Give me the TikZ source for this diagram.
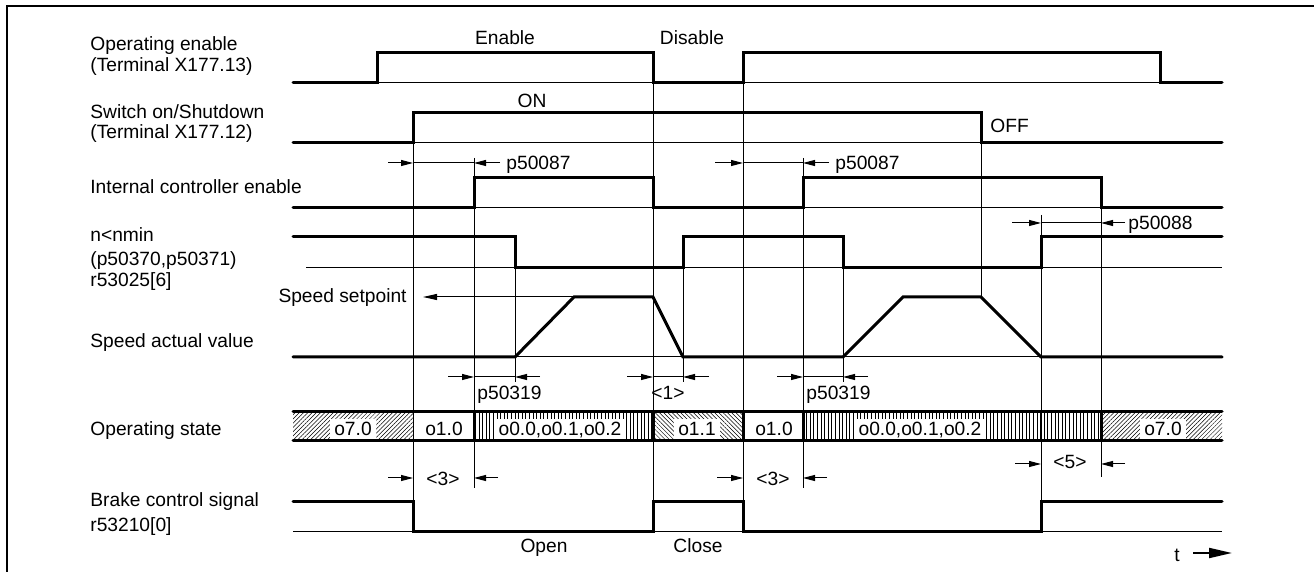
\documentclass[tikz,border=0pt]{standalone}
\usepackage{fontspec}
\setmainfont{Liberation Sans}
\usetikzlibrary{arrows.meta,patterns.meta}
\begin{document}
\begin{tikzpicture}[x=0.5pt,y=-0.5pt,
  sig/.style={line width=1.5pt,line join=miter,line cap=round},
  thinl/.style={line width=0.5pt},
  guide/.style={line width=0.5pt},
  sep/.style={line width=1.5pt},
  dimarr/.style={line width=0.5pt,-{Triangle[length=6pt,width=3pt]}},
  lbl/.style={font=\fontsize{9.6}{11}\selectfont,inner sep=0pt,text height=6.9pt,text depth=0pt},
  barlbl/.style={lbl,fill=white,inner xsep=2pt,inner ysep=1.5pt},
  hatchNE/.style={pattern={Lines[angle=45,distance=1.5pt,line width=0.25pt]}},
  hatchNW/.style={pattern={Lines[angle=-45,distance=1.5pt,line width=0.25pt]}},
  hatchV/.style={pattern={Lines[angle=90,distance=1.8pt,line width=0.25pt]}}]
\useasboundingbox (0,0) rectangle (1314,572);
% frame
\draw[line width=1.2pt] (7,572) -- (7,6) -- (1314,6);

% left labels
\node[lbl,anchor=west] (l1a) at (90,44) {Operating enable};
\node[lbl,anchor=west] (l1b) at (90,65) {(Terminal X177.13)};
\node[lbl,anchor=west] (l2a) at (90,112) {Switch on/Shutdown};
\node[lbl,anchor=west] (l2b) at (90,132) {(Terminal X177.12)};
\node[lbl,anchor=west] (l3) at (90,187) {Internal controller enable};
\node[lbl,anchor=west] (l4a) at (90,235) {n<nmin};
\node[lbl,anchor=west] (l4b) at (90,259) {(p50370,p50371)};
\node[lbl,anchor=west] (l4c) at (90,280) {r53025[6]};
\node[lbl,anchor=east] (sp) at (407,296) {Speed setpoint};
\node[lbl,anchor=west] (l5) at (90,341) {Speed actual value};
\node[lbl,anchor=west] (l6) at (90,429) {Operating state};
\node[lbl,anchor=west] (l7a) at (90,500) {Brake control signal};
\node[lbl,anchor=west] (l7b) at (90,525) {r53210[0]};

% guide lines
\draw[guide] (413,143) -- (413,502);
\draw[guide] (474,158) -- (474,488);
\draw[guide] (515,237) -- (515,382);
\draw[guide] (653,83) -- (653,502);
\draw[guide] (683,237) -- (683,382);
\draw[guide] (743,83) -- (743,502);
\draw[guide] (803,158) -- (803,488);
\draw[guide] (843,237) -- (843,382);
\draw[guide] (981,143) -- (981,297);
\draw[guide] (1041,215) -- (1041,502);
\draw[guide] (1101,208) -- (1101,477);

% signal 1: operating enable
\draw[thinl] (293,83) -- (1222,83);
\draw[sig] (293,83) -- (377,83) -- (377,53) -- (653,53) -- (653,83) -- (743,83) -- (743,53) -- (1160,53) -- (1160,83) -- (1222,83);
\node[lbl] (en) at (505,38) {Enable};
\node[lbl] (dis) at (692,38) {Disable};

% signal 2: switch on
\draw[thinl] (293,143) -- (1222,143);
\draw[sig] (293,143) -- (413,143) -- (413,113) -- (981,113) -- (981,143) -- (1222,143);
\node[lbl] (on) at (532,101) {ON};
\node[lbl,anchor=west] (off) at (990,126) {OFF};

% p50087
\draw[dimarr] (388,163) -- (413,163);
\draw[thinl] (413,163) -- (474,163);
\draw[dimarr] (500,163) -- (474,163);
\node[lbl,anchor=west] (p87a) at (506,163) {p50087};
\draw[dimarr] (715,163) -- (743,163);
\draw[thinl] (743,163) -- (803,163);
\draw[dimarr] (829,163) -- (803,163);
\node[lbl,anchor=west] (p87b) at (835,163) {p50087};

% signal 3: internal controller enable
\draw[thinl] (293,208) -- (1222,208);
\draw[sig] (293,208) -- (474,208) -- (474,178) -- (653,178) -- (653,208) -- (803,208) -- (803,178) -- (1101,178) -- (1101,208) -- (1222,208);

% p50088
\draw[dimarr] (1012,223) -- (1041,223);
\draw[thinl] (1041,223) -- (1101,223);
\draw[dimarr] (1125,223) -- (1101,223);
\node[lbl,anchor=west] (p88) at (1128,223) {p50088};

% signal 4: n<nmin
\draw[thinl] (306,268) -- (1222,268);
\draw[sig] (293,237) -- (515,237) -- (515,268) -- (683,268) -- (683,237) -- (843,237) -- (843,268) -- (1041,268) -- (1041,237) -- (1222,237);

% signal 5: speed
\draw[thinl] (293,357) -- (1222,357);
\draw[thinl,-{Triangle[length=7pt,width=3pt]}] (574,297) -- (423,297);
\draw[sig] (293,357) -- (515,357) -- (574,297) -- (653,297) -- (683,357) -- (843,357) -- (903,297) -- (981,297) -- (1041,357) -- (1222,357);

% p50319 and <1>
\draw[dimarr] (448,377) -- (474,377);
\draw[thinl] (474,377) -- (515,377);
\draw[dimarr] (540,377) -- (515,377);
\node[lbl,anchor=west] (p319a) at (477,393) {p50319};
\draw[dimarr] (627,377) -- (653,377);
\draw[thinl] (653,377) -- (683,377);
\draw[dimarr] (709,377) -- (683,377);
\node[lbl] (d1) at (668,393) {<1>};
\draw[dimarr] (777,377) -- (803,377);
\draw[thinl] (803,377) -- (843,377);
\draw[dimarr] (868,377) -- (843,377);
\node[lbl,anchor=west] (p319b) at (806,393) {p50319};

% operating state bar
\fill[hatchNE] (293,413) rectangle (413,440);
\fill[hatchV] (474,413) rectangle (653,440);
\fill[hatchNW] (653,413) rectangle (743,440);
\fill[hatchV] (803,413) rectangle (1101,440);
\fill[hatchNE] (1101,413) rectangle (1222,440);
\draw[guide] (413,412) -- (413,441);
\draw[guide] (1041,412) -- (1041,441);
\draw[sig] (293,412) -- (1222,412);
\draw[sig] (293,441) -- (1222,441);
\foreach \xx in {474,653,743,803,1101} \draw[sep] (\xx,412) -- (\xx,441);
\node[barlbl] (s1) at (353,429) {o7.0};
\node[barlbl] (s2) at (444,429) {o1.0};
\node[barlbl] (s3) at (560,429) {o0.0,o0.1,o0.2};
\node[barlbl] (s4) at (697,429) {o1.1};
\node[barlbl] (s5) at (774,429) {o1.0};
\node[barlbl] (s6) at (920,429) {o0.0,o0.1,o0.2};
\node[barlbl] (s7) at (1163,429) {o7.0};

% <3> <5>
\draw[dimarr] (388,478) -- (413,478);
\draw[dimarr] (498,478) -- (474,478);
\node[lbl] (d3a) at (443,479) {<3>};
\draw[dimarr] (717,478) -- (743,478);
\draw[dimarr] (827,478) -- (803,478);
\node[lbl] (d3b) at (773,479) {<3>};
\draw[dimarr] (1015,464) -- (1041,464);
\draw[dimarr] (1125,464) -- (1101,464);
\node[lbl] (d5) at (1070,462) {<5>};

% brake
\draw[thinl] (293,532) -- (1222,532);
\draw[sig] (293,502) -- (413,502) -- (413,532) -- (653,532) -- (653,502) -- (743,502) -- (743,532) -- (1041,532) -- (1041,502) -- (1222,502);
\node[lbl] (open) at (544,546) {Open};
\node[lbl] (close) at (698,546) {Close};

% time axis
\node[lbl] (t) at (1177,555) {t};
\coordinate (ta) at (1193,553);
\coordinate (tb) at (1232,553);
\draw[line width=1pt,-{Triangle[length=11.5pt,width=5pt]}] (ta) -- (tb);
\end{tikzpicture}
\end{document}
